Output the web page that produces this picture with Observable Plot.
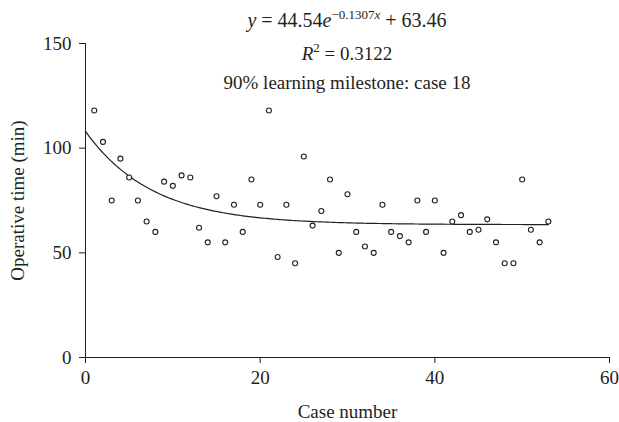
<!DOCTYPE html>
<html>
<head>
<meta charset="utf-8">
<script src="https://cdn.jsdelivr.net/npm/d3@7"></script>
<script src="https://cdn.jsdelivr.net/npm/@observablehq/plot@0.6"></script>
<style>
  body { margin: 0; background: #fff; }
  #wrap { position: relative; width: 619px; height: 422px; font-family: "Liberation Serif", "DejaVu Serif", serif; color: #231f20; }
  .ann { position: absolute; left: 0; width: 694px; text-align: center; font-size: 19px; white-space: nowrap; line-height: 1; }
  .ann i { font-style: italic; }
  .ann sup { font-size: 13px; vertical-align: 0; position: relative; top: -8px; }
</style>
</head>
<body>
<div id="wrap">
  <div class="ann" style="top:10px;font-size:20px"><i>y</i> = 44.54<i>e</i><sup>−0.1307<i>x</i></sup> + 63.46</div>
  <div class="ann" style="top:44px"><i>R</i><sup>2</sup> = 0.3122</div>
  <div class="ann" style="top:73px">90% learning milestone: case 18</div>
</div>
<script>
const caseNumber = d3.range(1, 54);
const operativeTime = [118, 103, 75, 95, 86, 75, 65, 60, 84, 82,
  87, 86, 62, 55, 77, 55, 73, 60, 85, 73,
  118, 48, 73, 45, 96, 63, 70, 85, 50, 78,
  60, 53, 50, 73, 60, 58, 55, 75, 60, 75,
  50, 65, 68, 60, 61, 66, 55, 45, 45, 85,
  61, 55, 65];
const xTicks = [0, 20, 40, 60];
const yTicks = [0, 50, 100, 150];
// fitted curve shown on the chart: y = a*exp(b*x) + c
const fitA = 44.54, fitB = -0.1307, fitC = 63.46;
const fitX = d3.range(0, 53.01, 0.25);

const points = caseNumber.map((c, i) => ({x: c, y: operativeTime[i]}));
const curve = fitX.map(x => ({x, y: fitA * Math.exp(fitB * x) + fitC}));

const ink = "#231f20";
const chart = Plot.plot({
  width: 619,
  height: 422,
  marginLeft: 85,
  marginRight: 10,
  marginTop: 43,
  marginBottom: 65,
  style: {fontFamily: '"Liberation Serif", serif', fontSize: "19px", color: ink, background: "transparent"},
  x: {domain: [0, 60]},
  y: {domain: [0, 150]},
  marks: [
    Plot.axisX({ticks: xTicks, tickSize: 6, tickPadding: 7, label: "Case number", labelAnchor: "center", labelArrow: "none", labelOffset: 60, fontSize: 19}),
    Plot.axisY({ticks: yTicks, tickSize: 6, tickPadding: 8, label: "Operative time (min)", labelAnchor: "center", labelArrow: "none", labelOffset: 75, fontSize: 19}),
    Plot.ruleX([0], {stroke: ink, strokeWidth: 1}),
    Plot.ruleY([0], {stroke: ink, strokeWidth: 1}),
    Plot.line(curve, {x: "x", y: "y", stroke: ink, strokeWidth: 1.2}),
    Plot.dot(points, {x: "x", y: "y", r: 2.5, stroke: ink, strokeWidth: 1.1, fill: "white"})
  ]
});
chart.style.position = "absolute";
chart.style.left = "0";
chart.style.top = "0";
document.getElementById("wrap").prepend(chart);
</script>
</body>
</html>
